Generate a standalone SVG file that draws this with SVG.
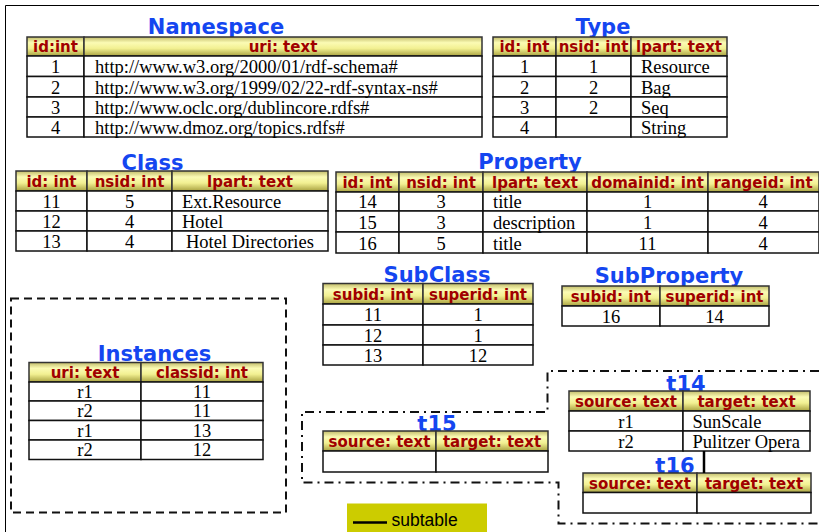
<svg xmlns="http://www.w3.org/2000/svg" width="819" height="532" viewBox="0 0 819 532">
<defs>
<linearGradient id="hg" x1="0" y1="0" x2="0" y2="1">
<stop offset="0" stop-color="#c2bc6a"/>
<stop offset="0.3" stop-color="#fbfbb4"/>
<stop offset="0.6" stop-color="#f2f092"/>
<stop offset="1" stop-color="#a9a240"/>
</linearGradient>
</defs>
<style>
.h{fill:url(#hg);stroke:#333;stroke-width:1.5}
.c{fill:#fff;stroke:#111;stroke-width:1.5}
.ht{font-family:"DejaVu Sans",Verdana,sans-serif;font-weight:bold;font-size:15px;fill:#a00000;text-anchor:middle}
.t{font-family:"Liberation Serif","Times New Roman",serif;font-size:18.5px;fill:#000}
.m{text-anchor:middle}
.ti{font-family:"DejaVu Sans",Verdana,sans-serif;font-weight:bold;font-size:21px;fill:#1446f0;text-anchor:middle}
.frame{fill:none;stroke:#000;stroke-width:1}
.dash{fill:none;stroke:#111;stroke-width:2;stroke-dasharray:8 5}
.dd{fill:none;stroke:#111;stroke-width:2;stroke-dasharray:9 5 2 5}
</style>
<path class="frame" d="M819 5.5H5.5V532"/>

<g id="namespace">
<text class="ti" x="216" y="34">Namespace</text>
<rect class="h" x="27" y="37" width="57" height="19"/>
<rect class="h" x="84" y="37" width="398" height="19"/>
<text class="ht" x="55.5" y="52">id:int</text>
<text class="ht" x="283" y="52">uri: text</text>
<rect class="c" x="27" y="56" width="57" height="20.5"/><rect class="c" x="84" y="56" width="398" height="20.5"/>
<rect class="c" x="27" y="76.5" width="57" height="20.5"/><rect class="c" x="84" y="76.5" width="398" height="20.5"/>
<rect class="c" x="27" y="97" width="57" height="20"/><rect class="c" x="84" y="97" width="398" height="20"/>
<rect class="c" x="27" y="117" width="57" height="20"/><rect class="c" x="84" y="117" width="398" height="20"/>
<text class="t m" x="55.5" y="73">1</text><text class="t" x="95" y="73">http://www.w3.org/2000/01/rdf-schema#</text>
<text class="t m" x="55.5" y="93.5">2</text><text class="t" x="95" y="93.5">http://www.w3.org/1999/02/22-rdf-syntax-ns#</text>
<text class="t m" x="55.5" y="113.5">3</text><text class="t" x="95" y="113.5">http://www.oclc.org/dublincore.rdfs#</text>
<text class="t m" x="55.5" y="133.5">4</text><text class="t" x="95" y="133.5">http://www.dmoz.org/topics.rdfs#</text>
</g>

<g id="type">
<text class="ti" x="603" y="34">Type</text>
<rect class="h" x="493" y="37" width="63" height="19"/>
<rect class="h" x="556" y="37" width="75" height="19"/>
<rect class="h" x="631" y="37" width="96" height="19"/>
<text class="ht" x="524.5" y="52">id: int</text>
<text class="ht" x="593.5" y="52">nsid: int</text>
<text class="ht" x="679" y="52">lpart: text</text>
<rect class="c" x="493" y="56" width="63" height="20.5"/><rect class="c" x="556" y="56" width="75" height="20.5"/><rect class="c" x="631" y="56" width="96" height="20.5"/>
<rect class="c" x="493" y="76.5" width="63" height="20.5"/><rect class="c" x="556" y="76.5" width="75" height="20.5"/><rect class="c" x="631" y="76.5" width="96" height="20.5"/>
<rect class="c" x="493" y="97" width="63" height="20"/><rect class="c" x="556" y="97" width="75" height="20"/><rect class="c" x="631" y="97" width="96" height="20"/>
<rect class="c" x="493" y="117" width="63" height="20"/><rect class="c" x="556" y="117" width="75" height="20"/><rect class="c" x="631" y="117" width="96" height="20"/>
<text class="t m" x="524.5" y="73">1</text><text class="t m" x="593.5" y="73">1</text><text class="t" x="641" y="73">Resource</text>
<text class="t m" x="524.5" y="93.5">2</text><text class="t m" x="593.5" y="93.5">2</text><text class="t" x="641" y="93.5">Bag</text>
<text class="t m" x="524.5" y="113.5">3</text><text class="t m" x="593.5" y="113.5">2</text><text class="t" x="641" y="113.5">Seq</text>
<text class="t m" x="524.5" y="133.5">4</text><text class="t" x="641" y="133.5">String</text>
</g>

<g id="class">
<text class="ti" x="152.5" y="170">Class</text>
<rect class="h" x="16" y="171" width="71" height="20"/>
<rect class="h" x="87" y="171" width="85" height="20"/>
<rect class="h" x="172" y="171" width="156" height="20"/>
<text class="ht" x="51.5" y="187">id: int</text>
<text class="ht" x="129.5" y="187">nsid: int</text>
<text class="ht" x="250" y="187">lpart: text</text>
<rect class="c" x="16" y="191" width="71" height="20"/><rect class="c" x="87" y="191" width="85" height="20"/><rect class="c" x="172" y="191" width="156" height="20"/>
<rect class="c" x="16" y="211" width="71" height="20"/><rect class="c" x="87" y="211" width="85" height="20"/><rect class="c" x="172" y="211" width="156" height="20"/>
<rect class="c" x="16" y="231" width="71" height="20"/><rect class="c" x="87" y="231" width="85" height="20"/><rect class="c" x="172" y="231" width="156" height="20"/>
<text class="t m" x="51.5" y="207.5">11</text><text class="t m" x="129.5" y="207.5">5</text><text class="t" x="182" y="207.5">Ext.Resource</text>
<text class="t m" x="51.5" y="227.5">12</text><text class="t m" x="129.5" y="227.5">4</text><text class="t" x="182" y="227.5">Hotel</text>
<text class="t m" x="51.5" y="247.5">13</text><text class="t m" x="129.5" y="247.5">4</text><text class="t" x="186" y="247.5">Hotel Directories</text>
</g>

<g id="property">
<text class="ti" x="530" y="169">Property</text>
<rect class="h" x="336" y="172" width="63" height="20"/>
<rect class="h" x="399" y="172" width="84" height="20"/>
<rect class="h" x="483" y="172" width="104" height="20"/>
<rect class="h" x="587" y="172" width="121" height="20"/>
<rect class="h" x="708" y="172" width="111" height="20"/>
<text class="ht" x="367.5" y="188">id: int</text>
<text class="ht" x="441" y="188">nsid: int</text>
<text class="ht" x="535" y="188">lpart: text</text>
<text class="ht" x="647.5" y="188">domainid: int</text>
<text class="ht" x="763" y="188">rangeid: int</text>
<rect class="c" x="336" y="192" width="63" height="19"/><rect class="c" x="399" y="192" width="84" height="19"/><rect class="c" x="483" y="192" width="104" height="19"/><rect class="c" x="587" y="192" width="121" height="19"/><rect class="c" x="708" y="192" width="111" height="19"/>
<rect class="c" x="336" y="211" width="63" height="21"/><rect class="c" x="399" y="211" width="84" height="21"/><rect class="c" x="483" y="211" width="104" height="21"/><rect class="c" x="587" y="211" width="121" height="21"/><rect class="c" x="708" y="211" width="111" height="21"/>
<rect class="c" x="336" y="232" width="63" height="21"/><rect class="c" x="399" y="232" width="84" height="21"/><rect class="c" x="483" y="232" width="104" height="21"/><rect class="c" x="587" y="232" width="121" height="21"/><rect class="c" x="708" y="232" width="111" height="21"/>
<text class="t m" x="367.5" y="208">14</text><text class="t m" x="441" y="208">3</text><text class="t" x="493" y="208">title</text><text class="t m" x="647.5" y="208">1</text><text class="t m" x="763" y="208">4</text>
<text class="t m" x="367.5" y="228.5">15</text><text class="t m" x="441" y="228.5">3</text><text class="t" x="493" y="228.5">description</text><text class="t m" x="647.5" y="228.5">1</text><text class="t m" x="763" y="228.5">4</text>
<text class="t m" x="367.5" y="249.5">16</text><text class="t m" x="441" y="249.5">5</text><text class="t" x="493" y="249.5">title</text><text class="t m" x="647.5" y="249.5">11</text><text class="t m" x="763" y="249.5">4</text>
</g>

<g id="subclass">
<text class="ti" x="437" y="282">SubClass</text>
<rect class="h" x="323" y="283.5" width="100" height="20.5"/>
<rect class="h" x="423" y="283.5" width="110" height="20.5"/>
<text class="ht" x="373" y="300">subid: int</text>
<text class="ht" x="478" y="300">superid: int</text>
<rect class="c" x="323" y="304" width="100" height="21"/><rect class="c" x="423" y="304" width="110" height="21"/>
<rect class="c" x="323" y="325" width="100" height="20"/><rect class="c" x="423" y="325" width="110" height="20"/>
<rect class="c" x="323" y="345" width="100" height="20"/><rect class="c" x="423" y="345" width="110" height="20"/>
<text class="t m" x="373" y="321">11</text><text class="t m" x="478" y="321">1</text>
<text class="t m" x="373" y="341.5">12</text><text class="t m" x="478" y="341.5">1</text>
<text class="t m" x="373" y="361.5">13</text><text class="t m" x="478" y="361.5">12</text>
</g>

<g id="subproperty">
<text class="ti" x="669" y="283">SubProperty</text>
<rect class="h" x="562" y="286" width="98" height="20"/>
<rect class="h" x="660" y="286" width="109" height="20"/>
<text class="ht" x="611" y="302">subid: int</text>
<text class="ht" x="714.5" y="302">superid: int</text>
<rect class="c" x="562" y="306" width="98" height="20"/><rect class="c" x="660" y="306" width="109" height="20"/>
<text class="t m" x="611" y="322.5">16</text><text class="t m" x="714.5" y="322.5">14</text>
</g>

<g id="instances">
<rect class="dash" x="11" y="298.5" width="275" height="214"/>
<text class="ti" x="154.5" y="361">Instances</text>
<rect class="h" x="29" y="362.5" width="112" height="19.5"/>
<rect class="h" x="141" y="362.5" width="122" height="19.5"/>
<text class="ht" x="85" y="378">uri: text</text>
<text class="ht" x="202" y="378">classid: int</text>
<rect class="c" x="29" y="382" width="112" height="19"/><rect class="c" x="141" y="382" width="122" height="19"/>
<rect class="c" x="29" y="401" width="112" height="19.5"/><rect class="c" x="141" y="401" width="122" height="19.5"/>
<rect class="c" x="29" y="420.5" width="112" height="19.5"/><rect class="c" x="141" y="420.5" width="122" height="19.5"/>
<rect class="c" x="29" y="440" width="112" height="19.5"/><rect class="c" x="141" y="440" width="122" height="19.5"/>
<text class="t m" x="85" y="398">r1</text><text class="t m" x="202" y="398">11</text>
<text class="t m" x="85" y="417">r2</text><text class="t m" x="202" y="417">11</text>
<text class="t m" x="85" y="436.5">r1</text><text class="t m" x="202" y="436.5">13</text>
<text class="t m" x="85" y="456">r2</text><text class="t m" x="202" y="456">12</text>
</g>

<path class="dd" d="M819 371H547.5V412H302V482.5H558.5V523.5H819"/>

<g id="t15">
<text class="ti" x="437" y="431">t15</text>
<rect class="h" x="323" y="431" width="113" height="20"/>
<rect class="h" x="436" y="431" width="112" height="20"/>
<text class="ht" x="379.5" y="447">source: text</text>
<text class="ht" x="492" y="447">target: text</text>
<rect class="c" x="323" y="451" width="113" height="21"/><rect class="c" x="436" y="451" width="112" height="21"/>
</g>

<g id="t14">
<text class="ti" x="686" y="391">t14</text>
<rect class="h" x="569" y="391" width="114" height="20"/>
<rect class="h" x="683" y="391" width="127" height="20"/>
<text class="ht" x="626" y="407">source: text</text>
<text class="ht" x="746.5" y="407">target: text</text>
<rect class="c" x="569" y="411" width="114" height="20"/><rect class="c" x="683" y="411" width="127" height="20"/>
<rect class="c" x="569" y="431" width="114" height="20"/><rect class="c" x="683" y="431" width="127" height="20"/>
<text class="t m" x="626" y="427.5">r1</text><text class="t" x="692.5" y="427.5">SunScale</text>
<text class="t m" x="626" y="447.5">r2</text><text class="t" x="692.5" y="447.5">Pulitzer Opera</text>
</g>

<g id="t16">
<text class="ti" x="675" y="473">t16</text>
<rect class="h" x="583" y="473" width="114" height="19.5"/>
<rect class="h" x="697" y="473" width="114" height="19.5"/>
<text class="ht" x="640" y="488.5">source: text</text>
<text class="ht" x="754" y="488.5">target: text</text>
<rect class="c" x="583" y="492.5" width="114" height="20.5"/><rect class="c" x="697" y="492.5" width="114" height="20.5"/>
</g>

<g id="connectors">
<line x1="704" y1="451" x2="704" y2="473" stroke="#000" stroke-width="2.5"/>
</g>

<g id="legend">
<rect x="347" y="503.5" width="140" height="29" fill="#cccc00"/>
<line x1="353" y1="522.5" x2="387" y2="522.5" stroke="#000" stroke-width="2.5"/>
<text x="391.5" y="526" font-family="'Liberation Sans',Arial,sans-serif" font-size="17.5px" fill="#000">subtable</text>
</g>
</svg>
